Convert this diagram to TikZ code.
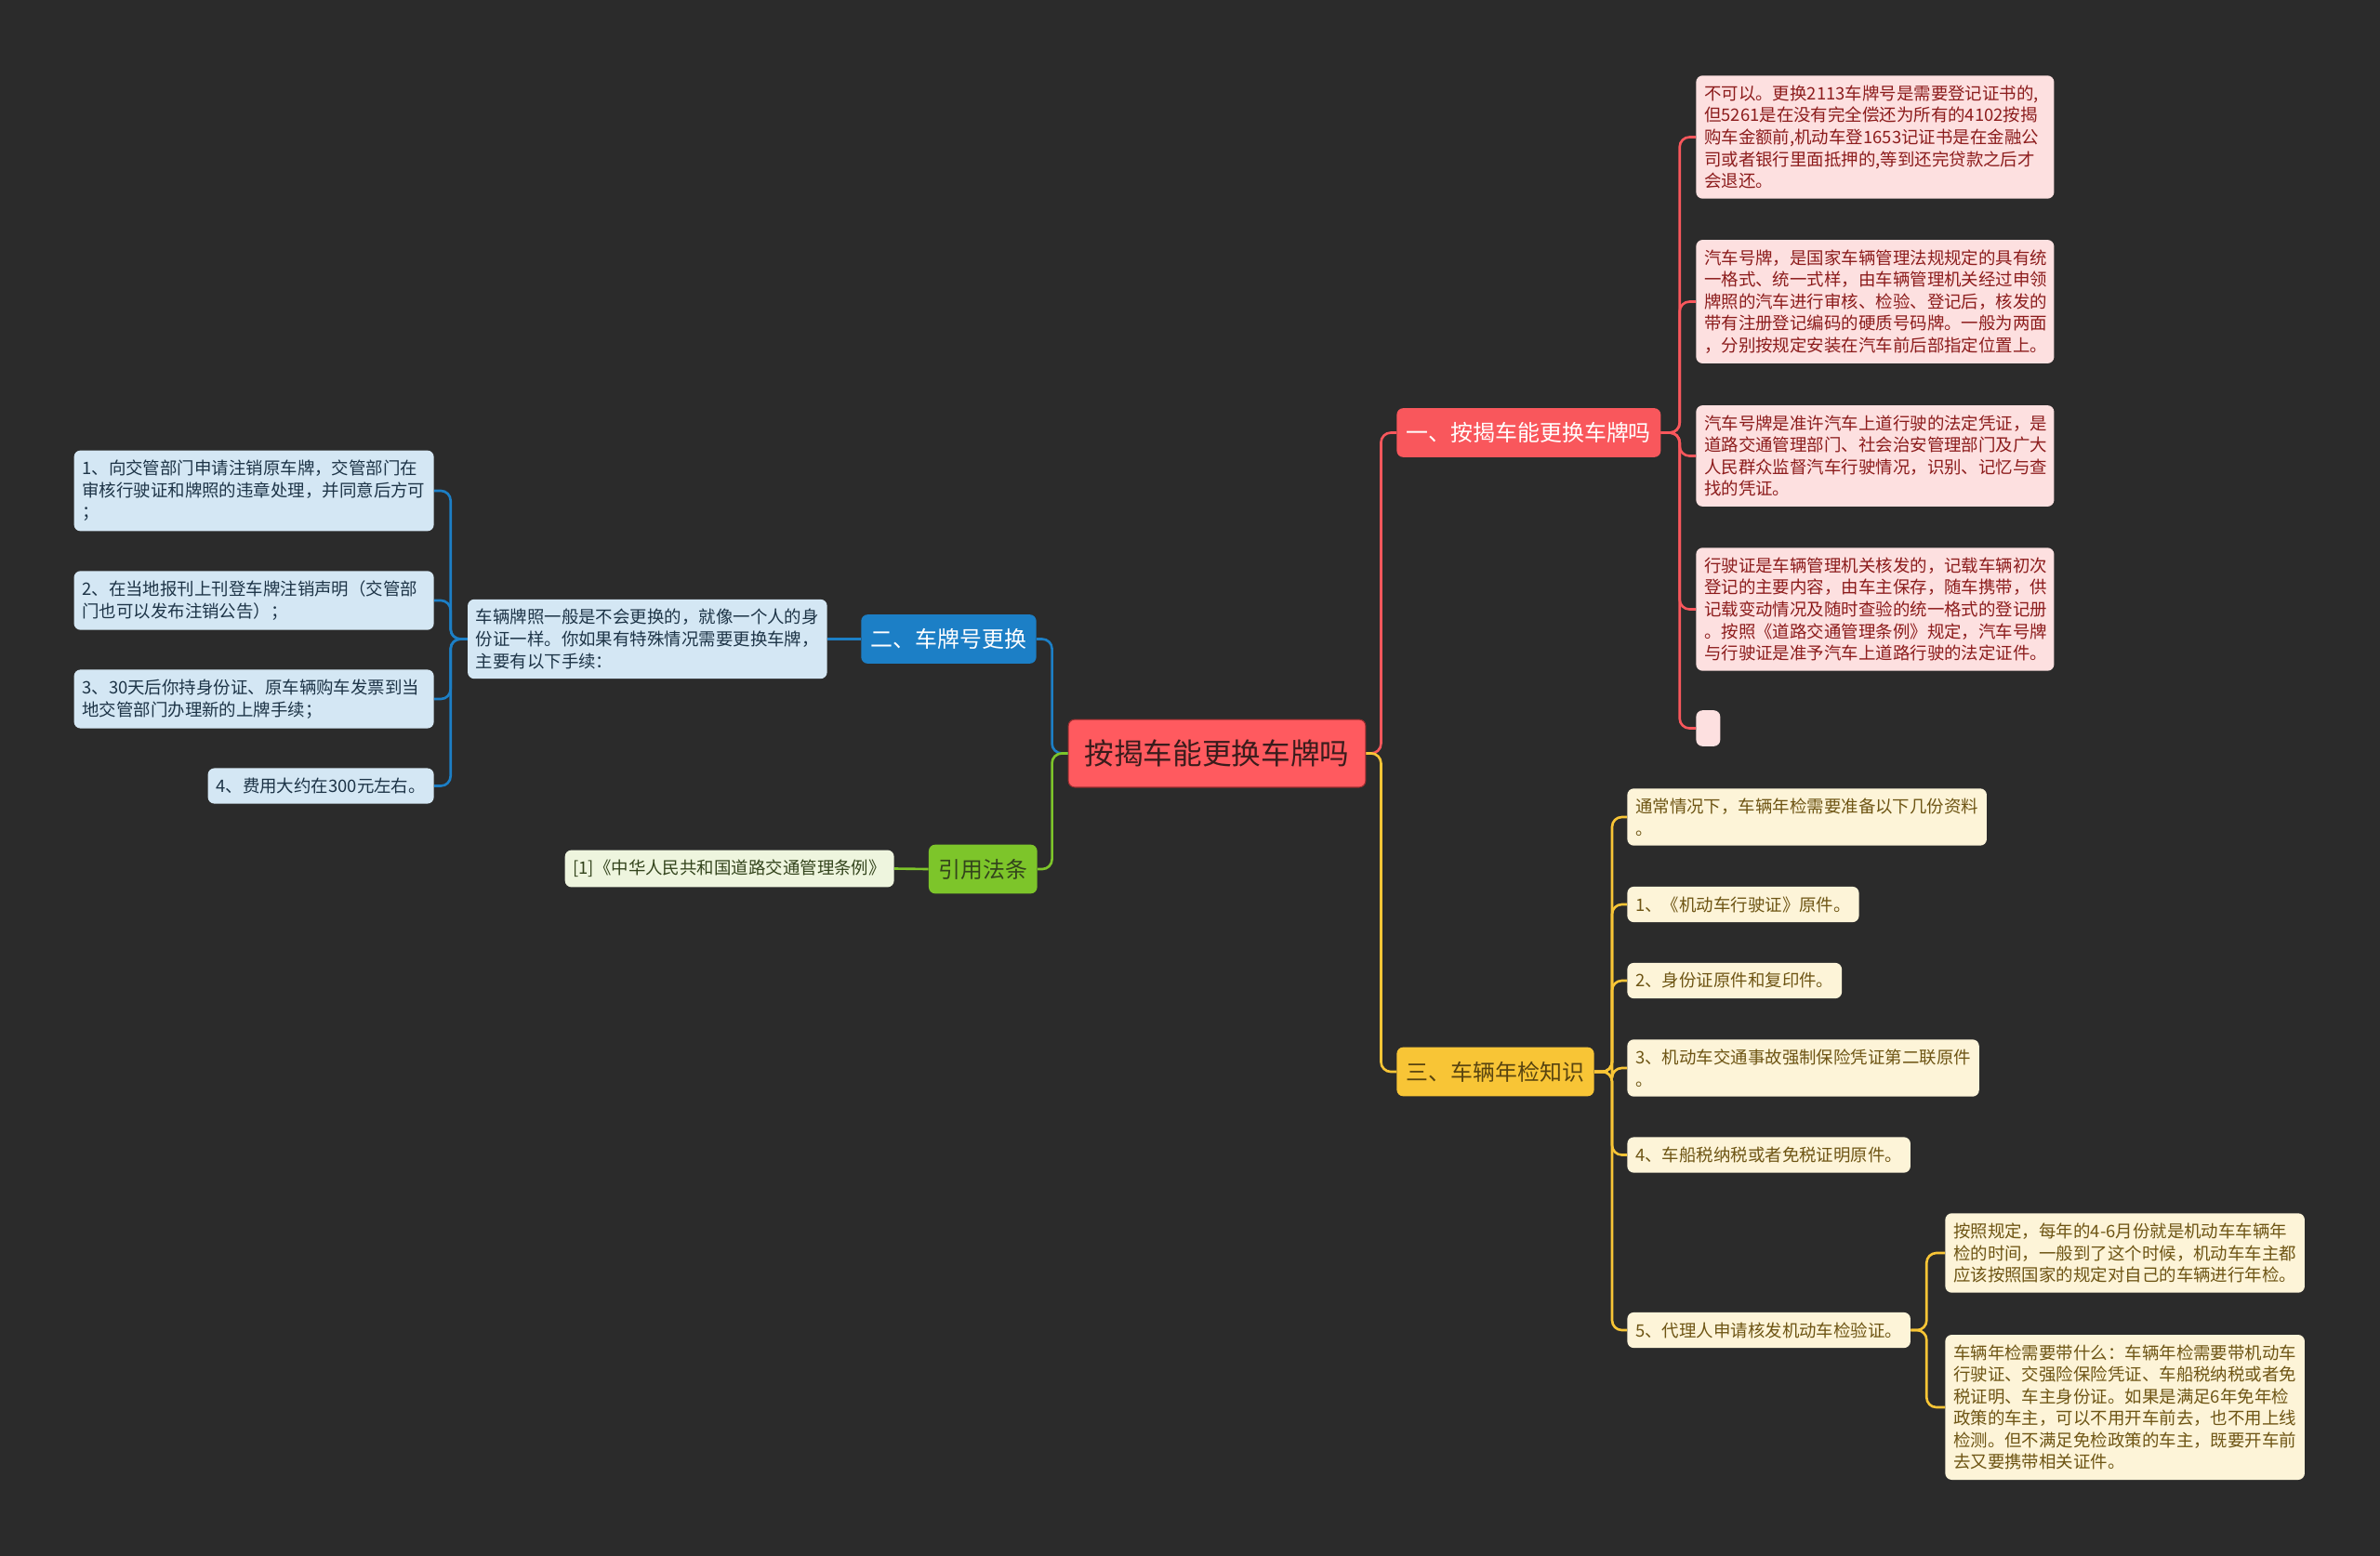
\documentclass[tikz,border=0pt]{standalone}
\usepackage{fontspec}
\setmainfont{Noto Sans CJK SC}
\usetikzlibrary{positioning}

\definecolor{bgcol}{HTML}{2B2B2B}
\definecolor{rootfill}{HTML}{FF5A5F}
\definecolor{rootedge}{HTML}{9A2E30}
\definecolor{roottext}{HTML}{3A1C1C}
\definecolor{redmain}{HTML}{F9575C}
\definecolor{redleaf}{HTML}{FDE0E0}
\definecolor{redtext}{HTML}{8C1C1C}
\definecolor{bluemain}{HTML}{1C7FC6}
\definecolor{blueleaf}{HTML}{D4E7F4}
\definecolor{bluetext}{HTML}{1D3447}
\definecolor{greenmain}{HTML}{7DC52A}
\definecolor{greenleaf}{HTML}{EEF5DE}
\definecolor{greentext}{HTML}{33441C}
\definecolor{yellowmain}{HTML}{F8C536}
\definecolor{yellowleaf}{HTML}{FDF4D8}
\definecolor{yellowtext}{HTML}{6E5514}

\begin{document}
\begin{tikzpicture}[
        % khung trung tam
        rootbox/.style={rectangle, rounded corners=4pt, draw=rootedge, line width=0.6pt, fill=rootfill, text=roottext, inner xsep=10pt, minimum height=41.5pt, font=\fontsize{18pt}{22pt}\selectfont},
        % bon nhanh chinh
        topicbox/.style={rectangle, rounded corners=4pt, minimum height=30pt, inner xsep=6pt, font=\fontsize{13.6pt}{16pt}\selectfont},
        % cac la
        leafbox/.style={rectangle, rounded corners=4pt, align=left, inner xsep=5pt, inner ysep=6pt, font=\fontsize{10.5pt}{13.4pt}\selectfont},
        redbox/.style={leafbox, fill=redleaf, text=redtext, text width=7.35cm},
        bluebox/.style={leafbox, fill=blueleaf, text=bluetext},
        greenbox/.style={leafbox, fill=greenleaf, text=greentext},
        yellowbox/.style={leafbox, fill=yellowleaf, text=yellowtext},
        % duong noi
        link/.style={line width=1.5pt, rounded corners=6pt}
    ]

    % nen toi
    \fill[bgcol] (0,0) rectangle (51.2,-33.48);
    \useasboundingbox (0,0) rectangle (51.2,-33.48);

    % --- 1. KHOI TRUNG TAM VA CAC NHANH ---
    \node[rootbox] (Root) at (26.18,-16.21) {按揭车能更换车牌吗};

    \node[topicbox, fill=redmain, text=white, anchor=west] (T1) at (30.04,-9.31) {一、按揭车能更换车牌吗};
    \node[topicbox, fill=bluemain, text=white, anchor=east] (T2) at (22.30,-13.75) {二、车牌号更换};
    \node[topicbox, fill=yellowmain, text=yellowtext!80!black, anchor=west] (T3) at (30.04,-23.06) {三、车辆年检知识};
    \node[topicbox, fill=greenmain, text=greentext, anchor=east] (T4) at (22.32,-18.70) {引用法条};

    % --- 2. NHANH DO ---
    \node[redbox, anchor=west] (R1) at (36.48,-2.95) {不可以。更换2113车牌号是需要登记证书的,\\但5261是在没有完全偿还为所有的4102按揭\\购车金额前,机动车登1653记证书是在金融公\\司或者银行里面抵押的,等到还完贷款之后才\\会退还。};
    \node[redbox, anchor=west] (R2) at (36.48,-6.49) {汽车号牌，是国家车辆管理法规规定的具有统\\一格式、统一式样，由车辆管理机关经过申领\\牌照的汽车进行审核、检验、登记后，核发的\\带有注册登记编码的硬质号码牌。一般为两面\\，分别按规定安装在汽车前后部指定位置上。};
    \node[redbox, anchor=west] (R3) at (36.48,-9.81) {汽车号牌是准许汽车上道行驶的法定凭证，是\\道路交通管理部门、社会治安管理部门及广大\\人民群众监督汽车行驶情况，识别、记忆与查\\找的凭证。};
    \node[redbox, anchor=west] (R4) at (36.48,-13.11) {行驶证是车辆管理机关核发的，记载车辆初次\\登记的主要内容，由车主保存，随车携带，供\\记载变动情况及随时查验的统一格式的登记册\\。按照《道路交通管理条例》规定，汽车号牌\\与行驶证是准予汽车上道路行驶的法定证件。};
    \node[leafbox, fill=redleaf, anchor=west, inner sep=0pt, minimum width=14.8pt, minimum height=22pt] (R5) at (36.48,-15.67) {};

    % --- 3. NHANH XANH DUONG ---
    \node[bluebox, anchor=east] (D) at (17.80,-13.75) {车辆牌照一般是不会更换的，就像一个人的身\\份证一样。你如果有特殊情况需要更换车牌，\\主要有以下手续：};
    \node[bluebox, text width=7.39cm, anchor=east] (B1) at (9.34,-10.56) {1、向交管部门申请注销原车牌，交管部门在\\审核行驶证和牌照的违章处理，并同意后方可\\；};
    \node[bluebox, text width=7.39cm, anchor=east] (B2) at (9.34,-12.92) {2、在当地报刊上刊登车牌注销声明（交管部\\门也可以发布注销公告）；};
    \node[bluebox, text width=7.39cm, anchor=east] (B3) at (9.34,-15.04) {3、30天后你持身份证、原车辆购车发票到当\\地交管部门办理新的上牌手续；};
    \node[bluebox, anchor=east] (B4) at (9.34,-16.91) {4、费用大约在300元左右。};

    % --- 4. NHANH XANH LA ---
    \node[greenbox, anchor=east] (G) at (19.24,-18.69) {[1]《中华人民共和国道路交通管理条例》};

    % --- 5. NHANH VANG ---
    \node[yellowbox, anchor=west] (Y1) at (35.0,-17.58) {通常情况下，车辆年检需要准备以下几份资料\\。};
    \node[yellowbox, anchor=west] (Y2) at (35.0,-19.46) {1、《机动车行驶证》原件。};
    \node[yellowbox, anchor=west] (Y3) at (35.0,-21.10) {2、身份证原件和复印件。};
    \node[yellowbox, anchor=west] (Y4) at (35.0,-22.98) {3、机动车交通事故强制保险凭证第二联原件\\。};
    \node[yellowbox, anchor=west] (Y5) at (35.0,-24.85) {4、车船税纳税或者免税证明原件。};
    \node[yellowbox, anchor=west] (Y6) at (35.0,-28.62) {5、代理人申请核发机动车检验证。};
    \node[yellowbox, anchor=west] (S1) at (41.84,-26.96) {按照规定，每年的4-6月份就是机动车车辆年\\检的时间，一般到了这个时候，机动车车主都\\应该按照国家的规定对自己的车辆进行年检。};
    \node[yellowbox, anchor=west] (S2) at (41.84,-30.28) {车辆年检需要带什么：车辆年检需要带机动车\\行驶证、交强险保险凭证、车船税纳税或者免\\税证明、车主身份证。如果是满足6年免年检\\政策的车主，可以不用开车前去，也不用上线\\检测。但不满足免检政策的车主，既要开车前\\去又要携带相关证件。};

    % --- 6. DUONG LIEN KET ---
    \draw[link, redmain] (Root.east) -- ++(0.32,0) |- (T1.west);
    \draw[link, yellowmain] (Root.east) -- ++(0.32,0) |- (T3.west);
    \draw[link, bluemain] (Root.west) -- ++(-0.34,0) |- (T2.east);
    \draw[link, greenmain] (Root.west) -- ++(-0.34,0) |- (T4.east);

    \foreach \n in {R1,R2,R3,R4,R5}
        \draw[link, redmain] (T1.east) -- ++(0.40,0) |- (\n.west);

    \draw[link, bluemain] (T2.west) -- (D.east);
    \foreach \n in {B1,B2,B3,B4}
        \draw[link, bluemain] (D.west) -- ++(-0.36,0) |- (\n.east);

    \draw[link, greenmain] (T4.west) -- (G.east);

    \foreach \n in {Y1,Y2,Y3,Y4,Y5,Y6}
        \draw[link, yellowmain] (T3.east) -- ++(0.38,0) |- (\n.west);
    \foreach \n in {S1,S2}
        \draw[link, yellowmain] (Y6.east) -- ++(0.34,0) |- (\n.west);

\end{tikzpicture}
\end{document}
